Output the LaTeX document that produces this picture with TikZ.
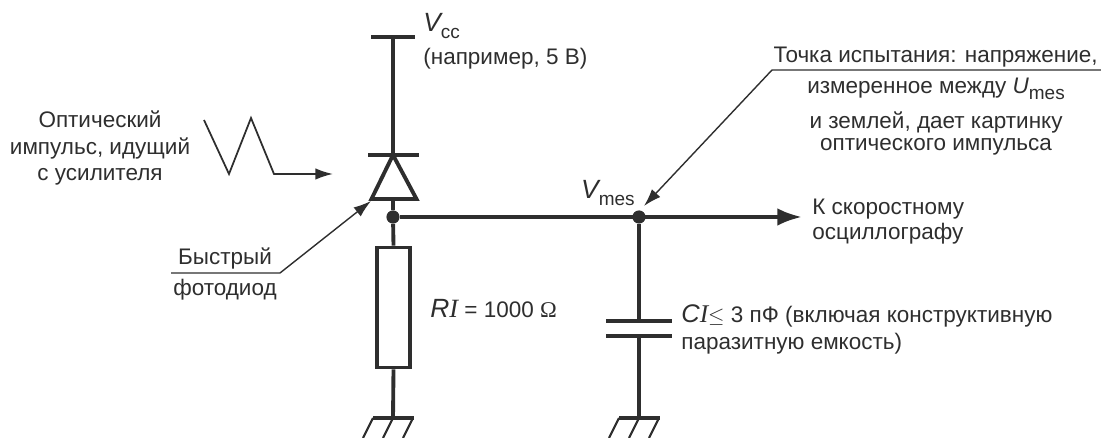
\documentclass[tikz,border=0pt]{standalone}
\usepackage{fontspec}
\setmainfont{Liberation Sans}
\newfontfamily\prserif{Liberation Serif}
\usepackage{tikz}
\usetikzlibrary{calc,arrows.meta}
\definecolor{prink}{HTML}{2E2E2E}
\newcommand{\prsub}[1]{\raisebox{-0.5ex}{\fontsize{10.8}{11}\selectfont #1}}
\newcommand{\prground}[1]{%
	\draw[wire] ($(#1)+(-0.4,0)$) -- ($(#1)+(0.42,0)$);
	\draw[hatch] ($(#1)+(-0.4,0)$) -- ++(-0.2,-0.4);
	\draw[hatch] (#1) -- ++(-0.2,-0.4);
	\draw[hatch] ($(#1)+(0.4,0)$) -- ++(-0.2,-0.4);
}
\tikzset{
	wire/.style={draw=prink,line width=2.2pt},
	hatch/.style={draw=prink,line width=1.2pt},
	leader/.style={draw=prink,line width=0.8pt},
	tip/.style={-{Latex[length=10pt,width=6.5pt]}},
	label/.style={text=prink,inner sep=0pt,font=\fontsize{12.8}{15.3}\selectfont},
	dot/.style={circle,fill=prink,inner sep=0pt,minimum size=7.5pt},
}
\begin{document}
\begin{tikzpicture}
	\useasboundingbox (0,0) rectangle (22.02,8.76);
	
	\coordinate (vcc) at (7.86,8.02);
	\coordinate (cathode) at (7.86,5.66);
	\coordinate (anodel) at (7.43,4.78);
	\coordinate (anoder) at (8.33,4.78);
	\coordinate (anode) at (7.86,4.78);
	\coordinate (gndr) at (7.86,0.4);
	\coordinate (gndc) at (12.78,0.4);
	\coordinate (platea) at (12.78,2.34);
	\coordinate (plateb) at (12.78,2.04);
	\coordinate (scope) at (16.04,4.42);
	\node[dot] (jr) at (7.86,4.42) {};
	\node[dot] (jc) at (12.78,4.42) {};
	\node[draw=prink,line width=2.2pt,minimum width=0.66cm,minimum height=2.4cm,inner sep=0pt] (rl) at (7.87,2.61) {};
	
	\draw[wire] ($(vcc)+(-0.44,0)$) -- ($(vcc)+(0.44,0)$);
	\draw[wire] (vcc) -- (cathode);
	\draw[wire] ($(cathode)+(-0.5,0)$) -- ($(cathode)+(0.52,0)$);
	\draw[wire,line join=miter] (cathode) -- (anodel) -- (anoder) -- cycle;
	\draw[wire] (anode) -- (jr) -- (rl.north);
	\draw[wire] (rl.south) -- (gndr);
	\prground{gndr}
	
	\draw[wire,-{Latex[length=14pt,width=10pt]}] (jr) -- (scope);
	\draw[wire] (jc) -- (platea);
	\draw[wire] ($(platea)+(-0.66,0)$) -- ($(platea)+(0.66,0)$);
	\draw[wire] ($(plateb)+(-0.66,0)$) -- ($(plateb)+(0.66,0)$);
	\draw[wire] (plateb) -- (gndc);
	\prground{gndc}
	
	\coordinate (pa) at (4.08,6.36);
	\coordinate (pb) at (4.58,5.28);
	\coordinate (pc) at (5.02,6.4);
	\coordinate (pd) at (5.48,5.28);
	\coordinate (pe) at (6.66,5.28);
	\draw[leader,line width=1pt,tip] (pa) -- (pb) -- (pc) -- (pd) -- (pe);
	
	\coordinate (fasta) at (3.42,3.3);
	\coordinate (fastb) at (5.6,3.3);
	\coordinate (fastc) at (7.42,4.74);
	\draw[leader,tip] (fasta) -- (fastb) -- (fastc);
	
	\coordinate (testa) at (22.02,7.36);
	\coordinate (testb) at (15.44,7.36);
	\coordinate (testc) at (12.88,4.64);
	\draw[leader,tip] (testa) -- (testb) -- (testc);
	
	\node[label,anchor=west] (lvcc) at (8.46,8.24) {\fontsize{15}{15}\selectfont\itshape V\prsub{\upshape cc}};
	\node[label,anchor=west] (lvccnote) at (8.46,7.58) {(например, 5 В)};
	\node[label,align=center] (lpulse) at (2.0,5.8) {Оптический\\импульс, идущий\\с усилителя};
	\node[label,anchor=base] (lfast) at (4.5,3.46) {Быстрый};
	\node[label,anchor=base] (lfastb) at (4.5,2.84) {фотодиод};
	\node[label,anchor=west] (lrl) at (8.6,2.58) {\fontsize{15}{15}\selectfont\itshape R{\prserif I}\fontsize{12.8}{15}\selectfont\upshape{} = 1000 {\prserif Ω}};
	\node[label,anchor=east] (lvmes) at (12.7,4.9) {\fontsize{15}{15}\selectfont\itshape V\prsub{\upshape mes}};
	\node[label,anchor=base east] (ltest) at (21.96,7.5) {Точка испытания: напряжение,};
	\node[label,anchor=base] (ltestb) at (18.72,6.88) {измеренное между {\itshape U}\prsub{mes}};
	\node[label,align=center,anchor=north] (ltestc) at (18.72,6.54) {и землей, дает картинку\\[-0.08cm]оптического импульса};
	\node[label,align=left,anchor=west] (lscope) at (16.24,4.33) {К скоростному\\[-0.03cm]осциллографу};
	\node[label,align=left,anchor=west] (lcap) at (13.62,2.17) {{\fontsize{14.5}{15}\selectfont\itshape C{\prserif I}}$\leq$ 3 пФ (включая конструктивную\\паразитную емкость)};
\end{tikzpicture}
\end{document}
